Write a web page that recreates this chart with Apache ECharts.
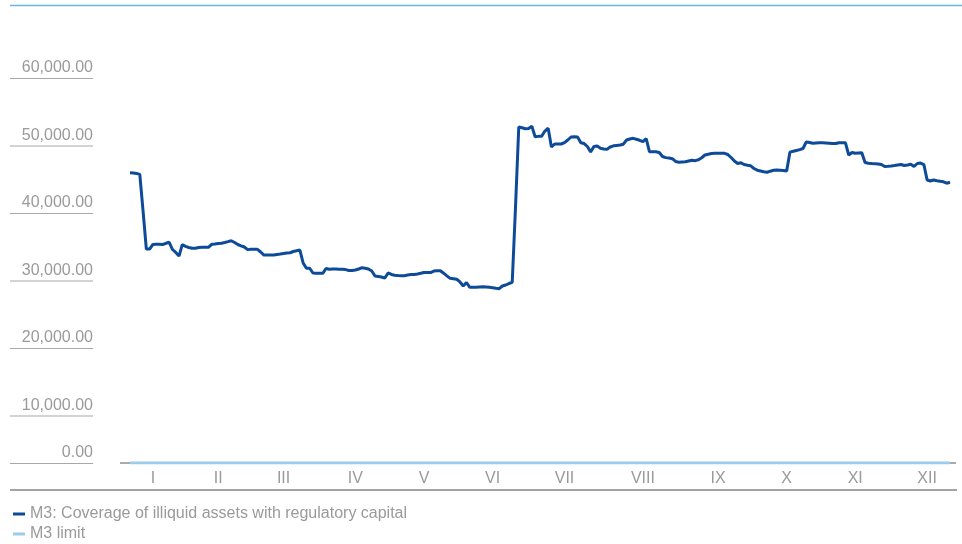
<!DOCTYPE html>
<html>
<head>
<meta charset="utf-8">
<style>
  html, body { margin: 0; padding: 0; background: #ffffff; }
  #chart { width: 962px; height: 544px; }
</style>
<script src="https://cdn.jsdelivr.net/npm/echarts@6/dist/echarts.min.js"></script>
</head>
<body>
<div id="chart"></div>
<script>
// Month of each group of daily observations (the first group closes the previous year)
const monthLabels = ['XII', 'I', 'II', 'III', 'IV', 'V', 'VI', 'VII', 'VIII', 'IX', 'X', 'XI', 'XII'];

// M3: coverage of illiquid assets with regulatory capital, daily observations per month
const coverageDecPrev = [43000, 42960, 42900, 42750, 37300, 31700, 31700];
const coverageJan = [32370, 32400, 32400, 32370, 32550, 32700, 31630, 31190, 30670, 32340,
                     32100, 31930, 31820, 31810, 31930, 31960, 31960, 31960, 32400, 32440];
const coverageFeb = [32520, 32560, 32670, 32790, 32920, 32670, 32370, 32180, 32000, 31610,
                     31660, 31660, 31660, 31260, 30810, 30810, 30810, 30810, 30890, 30960];
const coverageMar = [31040, 31110, 31150, 31330, 31440, 31550, 29630, 28850, 28850, 28150, 28100,
                     28100, 28100, 28820, 28710, 28740, 28740, 28710, 28700, 28650, 28530, 28520];
const coverageApr = [28590, 28740, 28930, 28850, 28740, 28440, 27700, 27630, 27560, 27400, 28150,
                     27930, 27820, 27780, 27750, 27750, 27850, 27910, 27940, 28000, 28100];
const coverageMay = [28220, 28220, 28220, 28440, 28490, 28480, 28120, 27730, 27360, 27300, 27220,
                     26820, 26220, 26740, 26030, 26030, 26040, 26070, 26100, 26070, 26030];
const coverageJun = [25970, 25880, 25820, 26220, 26370, 26590, 26770, 37850, 49780, 49660, 49510,
                     49560, 49900, 48340, 48390, 48410, 49180, 49590, 46820, 47260, 47260, 47260];
const coverageJul = [47450, 47850, 48300, 48330, 48300, 47450, 47330, 46890, 46070, 46890, 46960, 46620,
                     46520, 46490, 46820, 46990, 47050, 47110, 47230, 47850, 48000, 48100, 47970, 47810];
const coverageAug = [47600, 48070, 46120, 46120, 46120, 46000, 45410, 45240, 45190, 45080, 44670, 44560,
                     44590, 44620, 44740, 44860, 44790, 44920, 45220, 45630, 45740, 45850, 45880];
const coverageSep = [45880, 45880, 45880, 45700, 45260, 44740, 44370, 44470, 44220, 44120, 44030,
                     43630, 43380, 43260, 43140, 43070, 43230, 43360, 43410, 43380, 43330];
const coverageOct = [43260, 46050, 46180, 46300, 46420, 46590, 47560, 47480, 47380, 47410, 47440,
                     47440, 47410, 47380, 47320, 47330, 47450, 47450, 47440, 45630, 46000];
const coverageNov = [45880, 45930, 45970, 44520, 44410, 44370, 44340, 44310, 44220, 43930, 43960,
                     44000, 44060, 44150, 44220, 44070, 44150, 44270, 43930, 44370, 44440, 44220];
const coverageDec = [41930, 41780, 41930, 41820, 41730, 41660, 41450, 41590];

// M3 limit
const m3LimitValue = 0;

// Value axis ticks
const yMin = 0;
const yMax = 60000;
const yStep = 10000;

const seriesNames = ['M3: Coverage of illiquid assets with regulatory capital', 'M3 limit'];

const coverageMonths = [coverageDecPrev, coverageJan, coverageFeb, coverageMar, coverageApr,
  coverageMay, coverageJun, coverageJul, coverageAug, coverageSep, coverageOct, coverageNov, coverageDec];

// One category per observation: "<month> <day number within month>"
const observations = [];
const coverage = [];
coverageMonths.forEach((values, m) => {
  values.forEach((v, k) => {
    observations.push(monthLabels[m] + ' ' + (k + 1));
    coverage.push(v);
  });
});
const limit = coverage.map(() => m3LimitValue);

const textGrey = '#9a9a9a';
const fontFamily = '"Liberation Sans", Arial, sans-serif';

const fmtNumber = v => v.toLocaleString('en-US', { minimumFractionDigits: 2, maximumFractionDigits: 2 });

const chart = echarts.init(document.getElementById('chart'), null, { renderer: 'canvas' });

chart.setOption({
  animation: false,
  backgroundColor: '#ffffff',
  textStyle: { fontFamily: fontFamily },
  grid: { left: 130, right: 12, top: 58, bottom: 81, containLabel: false },
  legend: {
    orient: 'vertical',
    left: 13,
    top: 504,
    height: 60,
    padding: 0,
    itemGap: 0,
    itemWidth: 12,
    itemHeight: 3,
    icon: 'rect',
    data: seriesNames,
    textStyle: { color: textGrey, fontSize: 16, lineHeight: 20, fontFamily: fontFamily }
  },
  xAxis: {
    type: 'category',
    data: observations,
    boundaryGap: false,
    axisLine: { show: false },
    axisTick: { show: false },
    splitLine: { show: false },
    axisLabel: {
      color: textGrey,
      fontSize: 16,
      margin: 8,
      fontFamily: fontFamily,
      interval: (index, value) => index > 0 && value.split(' ')[1] === '1',
      formatter: value => value.split(' ')[0]
    }
  },
  yAxis: {
    type: 'value',
    min: yMin,
    max: yMax,
    interval: yStep,
    axisLine: { show: false },
    axisTick: { show: false },
    splitLine: { show: false },
    axisLabel: {
      margin: 37,
      // labels sit below their tick with an underline; the zero label sits on the axis
      formatter: v => v === 0
        ? '{t|' + fmtNumber(v) + '}\n{u| }\n{z| }'
        : '{s| }\n{t|' + fmtNumber(v) + '}\n{u| }',
      rich: {
        t: { fontSize: 16, color: textGrey, lineHeight: 20, height: 20, width: 83, align: 'right', fontFamily: fontFamily },
        u: { fontSize: 1, lineHeight: 1, height: 1, width: 83, backgroundColor: '#a8a8a8' },
        s: { fontSize: 1, lineHeight: 21, height: 21, width: 83 },
        z: { fontSize: 1, lineHeight: 19, height: 19, width: 83 }
      }
    }
  },
  graphic: [
    { type: 'line', z: 0, shape: { x1: 10, y1: 5.5, x2: 962, y2: 5.5 }, style: { stroke: '#6cb6df', lineWidth: 1.5 } },
    { type: 'line', z: 0, shape: { x1: 120, y1: 463, x2: 956, y2: 463 }, style: { stroke: '#8e8e8e', lineWidth: 1.5 } },
    { type: 'line', z: 0, shape: { x1: 10, y1: 490, x2: 957, y2: 490 }, style: { stroke: '#a3a3a3', lineWidth: 2 } }
  ],
  series: [
    {
      name: seriesNames[0],
      type: 'line',
      data: coverage,
      showSymbol: false,
      symbol: 'none',
      z: 3,
      lineStyle: { color: '#0d4a97', width: 3 },
      itemStyle: { color: '#0d4a97' }
    },
    {
      name: seriesNames[1],
      type: 'line',
      data: limit,
      showSymbol: false,
      symbol: 'none',
      z: 2,
      lineStyle: { color: '#9dcbea', width: 3 },
      itemStyle: { color: '#9dcbea' }
    }
  ]
});
</script>
</body>
</html>
